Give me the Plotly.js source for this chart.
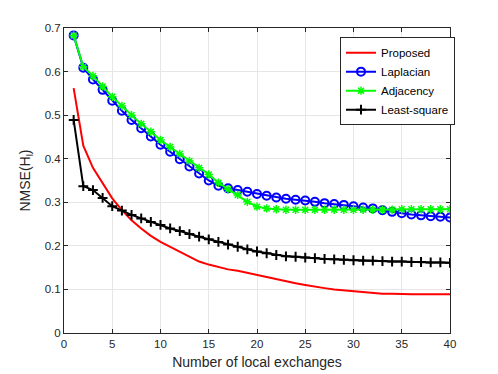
<!DOCTYPE html>
<html>
<head>
<meta charset="utf-8">
<script src="https://cdn.plot.ly/plotly-3.0.1.min.js"></script>
<style>
  html, body { margin: 0; padding: 0; background: #fff; }
  #chart { width: 498px; height: 374px; }
</style>
</head>
<body>
<div id="chart"></div>
<script>
// number of local exchanges
const exchanges = Array.from({ length: 40 }, (_, i) => i + 1);

// NMSE values
const proposed = [
  0.562, 0.430, 0.379, 0.345, 0.309, 0.282, 0.259, 0.240, 0.223, 0.209,
  0.198, 0.186, 0.175, 0.164, 0.157, 0.151, 0.146, 0.143, 0.138, 0.133,
  0.128, 0.123, 0.118, 0.114, 0.110, 0.106, 0.103, 0.100, 0.098, 0.096,
  0.094, 0.092, 0.090, 0.090, 0.089, 0.089, 0.089, 0.089, 0.089, 0.089
];
const laplacian = [
  0.683, 0.609, 0.582, 0.558, 0.533, 0.510, 0.489, 0.470, 0.451, 0.432,
  0.416, 0.399, 0.382, 0.366, 0.350, 0.338, 0.332, 0.328, 0.324, 0.319,
  0.315, 0.311, 0.308, 0.306, 0.304, 0.301, 0.298, 0.296, 0.294, 0.291,
  0.288, 0.286, 0.282, 0.278, 0.275, 0.272, 0.270, 0.268, 0.267, 0.265
];
const adjacency = [
  0.683, 0.611, 0.590, 0.566, 0.542, 0.521, 0.500, 0.480, 0.462, 0.443,
  0.427, 0.411, 0.395, 0.379, 0.364, 0.345, 0.330, 0.317, 0.301, 0.290,
  0.286, 0.284, 0.283, 0.283, 0.283, 0.283, 0.283, 0.283, 0.283, 0.283,
  0.283, 0.283, 0.283, 0.283, 0.284, 0.284, 0.284, 0.284, 0.284, 0.284
];
const leastSquare = [
  0.489, 0.337, 0.328, 0.310, 0.291, 0.281, 0.271, 0.263, 0.255, 0.248,
  0.240, 0.234, 0.227, 0.221, 0.215, 0.209, 0.203, 0.198, 0.192, 0.187,
  0.183, 0.179, 0.176, 0.175, 0.173, 0.172, 0.170, 0.169, 0.168, 0.167,
  0.166, 0.166, 0.165, 0.164, 0.164, 0.163, 0.163, 0.162, 0.162, 0.161
];

const xTicks = [0, 5, 10, 15, 20, 25, 30, 35, 40];
const yTicks = [0, 0.1, 0.2, 0.3, 0.4, 0.5, 0.6, 0.7];

const axisColor = '#262626';
const gridColor = '#e6e6e6';

const traces = [
  {
    x: exchanges, y: proposed, name: 'Proposed',
    type: 'scatter', mode: 'lines',
    line: { color: '#ff0000', width: 2 }
  },
  {
    x: exchanges, y: laplacian, name: 'Laplacian',
    type: 'scatter', mode: 'lines+markers',
    line: { color: '#0000ff', width: 2 },
    marker: { symbol: 'circle-open', size: 8, color: '#0000ff', line: { width: 2 } }
  },
  {
    x: exchanges, y: adjacency, name: 'Adjacency',
    type: 'scatter', mode: 'lines+markers',
    line: { color: '#00ff00', width: 2 },
    marker: { symbol: 'asterisk-open', size: 7, color: '#00ff00', line: { width: 1.5, color: '#00ff00' } }
  },
  {
    x: exchanges, y: leastSquare, name: 'Least-square',
    type: 'scatter', mode: 'lines+markers',
    line: { color: '#000000', width: 2 },
    marker: { symbol: 'cross-thin-open', size: 7, color: '#000000', line: { width: 2, color: '#000000' } }
  }
];

const layout = {
  width: 498,
  height: 374,
  margin: { l: 64, r: 48, t: 28, b: 41 },
  paper_bgcolor: '#ffffff',
  plot_bgcolor: '#ffffff',
  font: { family: 'Liberation Sans, Arial, sans-serif', size: 11.5, color: axisColor },
  showlegend: true,
  legend: {
    x: 0.715, y: 0.97, xanchor: 'left', yanchor: 'top',
    bgcolor: '#ffffff', bordercolor: '#262626', borderwidth: 1,
    font: { size: 11.5, color: '#000000' },
    tracegroupgap: 0, itemwidth: 30
  },
  xaxis: {
    range: [0, 40],
    tickvals: xTicks,
    ticktext: xTicks.map(String),
    ticks: 'inside', ticklen: 4, tickcolor: axisColor,
    showline: true, linecolor: axisColor, linewidth: 1, mirror: 'ticks',
    showgrid: true, gridcolor: gridColor,
    zeroline: false,
    title: { text: 'Number of local exchanges', font: { size: 14, color: axisColor }, standoff: 8 }
  },
  yaxis: {
    range: [0, 0.7],
    tickvals: yTicks,
    ticktext: yTicks.map(String),
    ticks: 'inside', ticklen: 4, tickcolor: axisColor,
    showline: true, linecolor: axisColor, linewidth: 1, mirror: 'ticks',
    showgrid: true, gridcolor: gridColor,
    zeroline: false,
    title: { text: 'NMSE(H<sub>l</sub>)', font: { size: 14, color: axisColor }, standoff: 10 }
  }
};

Plotly.newPlot('chart', traces, layout, { displayModeBar: false, staticPlot: true });
</script>
</body>
</html>
